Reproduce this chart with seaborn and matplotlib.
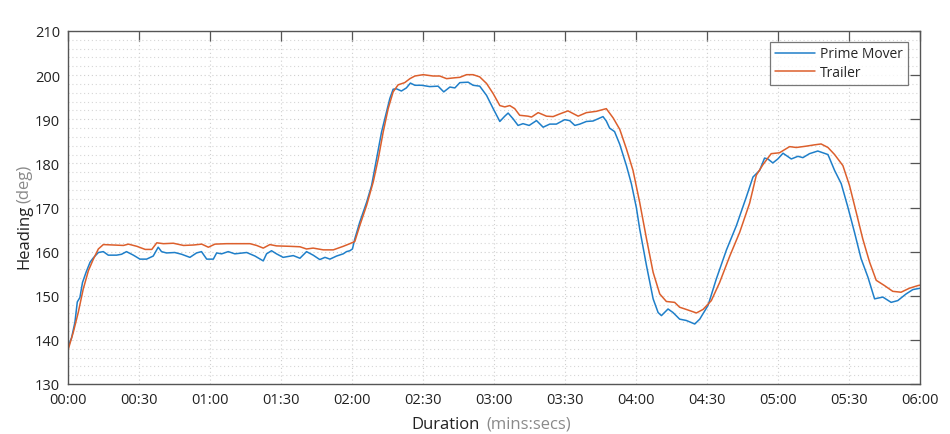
import numpy as np
import pandas as pd
import matplotlib
matplotlib.use("Agg")
import matplotlib.pyplot as plt
import seaborn as sns
from matplotlib.ticker import MultipleLocator, FuncFormatter
from matplotlib.lines import Line2D

# ---- data (seconds, degrees) ----
pm_t = [0, 1.4, 2.8, 3.8, 4.9, 6, 7.5, 9.2, 10.6, 12.7, 14.8, 16.9, 20.4, 22.5, 24.6, 27.5,
        30.3, 33.1, 35.9, 38.0, 39.4, 41.5, 45.0, 47.9, 51.4, 54.2, 56.3, 58.5, 61.3, 62.7,
        64.8, 67.6, 70.4, 75.4, 78.9, 82.4, 83.8, 85.9, 88.0, 90.8, 95.1, 97.9, 100.7, 103.5,
        106.3, 108.5, 110.6, 113.4, 116.2, 117.6, 119.0, 120.1, 121.1, 123.2, 126.1, 128.2,
        130.3, 132.4, 134.5, 135.9, 137.3, 138.7, 140.8, 142.9, 144.6, 146.5, 149.3, 152.8,
        156.3, 158.7, 161.3, 163.4, 165.5, 169.0, 171.1, 173.9, 176.8, 179.6, 182.4, 184.5,
        185.9, 188.0, 190.1, 192.2, 194.8, 197.9, 200.7, 203.5, 206.3, 209.8, 211.9, 214.1,
        216.2, 219.0, 221.8, 223.9, 226.0, 227.4, 228.8, 230.9, 233.1, 235.9, 238.0, 240.1,
        241.5, 244.4, 247.2, 249.3, 250.7, 253.5, 255.6, 258.4, 261.2, 264.8, 266.9, 270.4,
        273.9, 278.2, 282.4, 286.6, 289.4, 292.2, 294.3, 295.7, 297.8, 299.9, 302.1, 305.6,
        308.4, 310.5, 313.3, 316.8, 318.9, 321.1, 323.9, 326.7, 329.5, 332.3, 335.1, 338.0,
        340.8, 344.3, 347.8, 350.6, 354.1, 357.0, 360]
pm_v = [138.6, 140.5, 144.0, 148.6, 149.6, 153.0, 155.3, 157.6, 158.6, 159.8, 160.0, 159.2,
        159.2, 159.4, 160.0, 159.2, 158.3, 158.3, 159.0, 161.0, 160.0, 159.7, 159.8, 159.4,
        158.7, 159.7, 160.0, 158.3, 158.3, 159.7, 159.5, 160.0, 159.5, 159.8, 159.0, 157.9,
        159.5, 160.2, 159.5, 158.7, 159.1, 158.5, 160.0, 159.2, 158.2, 158.7, 158.3, 159.0,
        159.5, 160.0, 160.2, 160.6, 162.9, 166.7, 171.2, 175.0, 181.0, 187.1, 191.6, 194.7,
        196.8, 196.9, 196.4, 197.1, 198.2, 197.7, 197.7, 197.4, 197.5, 196.2, 197.3, 197.1,
        198.3, 198.4, 197.7, 197.5, 195.4, 192.4, 189.5, 190.7, 191.4, 190.1, 188.6, 189.0,
        188.6, 189.7, 188.2, 188.9, 188.9, 189.9, 189.7, 188.6, 188.9, 189.5, 189.6, 190.1,
        190.6, 189.6, 188.0, 187.2, 184.3, 179.5, 175.4, 170.0, 165.2, 156.8, 149.3, 146.2,
        145.5, 147.0, 146.2, 144.7, 144.4, 143.6, 144.7, 147.8, 153.8, 160.4, 165.9, 172.4,
        176.9, 178.4, 181.2, 181.0, 180.1, 181.0, 182.3, 181.0, 181.6, 181.3, 182.2, 182.8,
        182.4, 182.0, 178.4, 175.4, 170.1, 164.4, 158.4, 154.2, 149.3, 149.7, 148.5, 148.9,
        150.4, 151.4, 151.7]

tr_t = [0, 2.1, 4.2, 6.3, 8.5, 10.6, 12.7, 14.8, 19.1, 23.3, 25.4, 29.0, 32.5, 35.3, 37.4,
        40.2, 44.4, 48.7, 52.9, 56.4, 59.2, 62.0, 66.9, 76.8, 79.6, 82.4, 85.2, 88.0, 93.7,
        97.9, 100.7, 103.5, 107.8, 112.0, 116.2, 119.0, 121.1, 123.2, 126.1, 128.9, 131.0,
        133.1, 135.2, 137.3, 139.4, 142.2, 144.4, 146.5, 150.0, 154.2, 157.0, 159.9, 163.4,
        165.5, 168.3, 171.1, 173.9, 176.8, 179.6, 182.4, 184.5, 186.6, 188.7, 190.8, 194.3,
        195.8, 198.6, 202.1, 204.9, 207.7, 211.2, 215.5, 219.0, 223.2, 227.4, 230.3, 233.1,
        235.9, 238.7, 241.5, 244.4, 247.2, 250.0, 252.8, 256.3, 258.4, 261.2, 265.5, 268.3,
        271.8, 275.3, 279.6, 283.8, 288.0, 290.8, 293.6, 297.1, 300.6, 304.9, 307.7, 311.9,
        315.4, 318.2, 321.1, 323.9, 327.4, 330.2, 333.0, 335.8, 338.7, 341.5, 345.0, 348.5,
        352.0, 355.5, 359.1, 360]
tr_v = [137.9, 141.7, 146.2, 151.5, 155.7, 158.3, 160.6, 161.6, 161.5, 161.4, 161.7, 161.2,
        160.5, 160.5, 162.0, 161.8, 161.9, 161.4, 161.5, 161.7, 161.0, 161.7, 161.8, 161.8,
        161.4, 160.8, 161.6, 161.3, 161.2, 161.1, 160.6, 160.8, 160.4, 160.4, 161.2, 161.8,
        162.3, 165.9, 170.5, 175.8, 181.0, 187.1, 192.4, 196.2, 197.8, 198.3, 199.2, 199.8,
        200.1, 199.8, 199.8, 199.2, 199.4, 199.5, 200.1, 200.1, 199.6, 198.1, 195.8, 193.1,
        192.8, 193.1, 192.4, 190.9, 190.7, 190.5, 191.5, 190.7, 190.6, 191.2, 191.9, 190.7,
        191.5, 191.8, 192.4, 190.3, 187.7, 183.3, 178.4, 171.2, 162.9, 155.3, 150.4, 148.7,
        148.5, 147.4, 146.9, 146.1, 146.9, 148.9, 153.0, 159.0, 164.4, 171.0, 177.3, 179.7,
        182.2, 182.4, 183.8, 183.6, 183.9, 184.2, 184.4, 183.6, 182.0, 179.5, 175.0, 169.0,
        162.9, 157.6, 153.5, 152.3, 151.0, 150.8, 151.7, 152.3, 152.4]

series_names = ["Prime Mover", "Trailer"]
colors = ["#1f7fc9", "#dc5f2c"]

df = pd.concat([
    pd.DataFrame({"t": pm_t, "v": pm_v, "Series": series_names[0]}),
    pd.DataFrame({"t": tr_t, "v": tr_v, "Series": series_names[1]}),
], ignore_index=True)

sns.set_theme(style="white")
plt.rcParams["font.family"] = ["Open Sans", "DejaVu Sans"]

fig = plt.figure(figsize=(9.5, 4.35), dpi=100)
ax = fig.add_axes([68.3 / 950, 50 / 435, (920 - 68.3) / 950, 353 / 435])

sns.lineplot(data=df, x="t", y="v", hue="Series", palette=colors, sort=False,
             estimator=None, linewidth=1.1, ax=ax, legend=False)

ax.set_xlim(0, 360)
ax.set_ylim(130, 210)
ax.xaxis.set_major_locator(MultipleLocator(30))
ax.yaxis.set_major_locator(MultipleLocator(10))
ax.yaxis.set_minor_locator(MultipleLocator(2))
ax.xaxis.set_major_formatter(FuncFormatter(lambda s, p: f"{int(s)//60:02d}:{int(s)%60:02d}"))

ax.grid(which="major", axis="both", linestyle=(0, (1, 2.5)), color="#cfcfcf", linewidth=0.8)
ax.grid(which="minor", axis="y", linestyle=(0, (1, 2.5)), color="#d6d6d6", linewidth=0.8)
ax.set_axisbelow(True)

for s in ax.spines.values():
    s.set_color("#555555")
    s.set_linewidth(1.0)
    s.set_visible(True)

ax.tick_params(which="major", direction="in", length=7, width=0.9, color="#555555",
               top=True, right=True, labelsize=10.5, labelcolor="#222222", pad=6)
ax.tick_params(which="minor", length=0)
ax.set_xlabel("")
ax.set_ylabel("")

# legend
handles = [Line2D([0], [0], color=c, lw=1.1) for c in colors]
leg = ax.legend(handles, series_names, loc="upper right", bbox_to_anchor=(0.986, 0.97),
                frameon=True, fancybox=False, edgecolor="#555555", fontsize=10,
                handlelength=2.9, handletextpad=0.4, borderpad=0.35, labelspacing=0.25,
                borderaxespad=0)
leg.get_frame().set_linewidth(0.9)

# axis labels with grey units
fig.text(480 / 950, 1 - 429 / 435, "Duration", ha="right", va="baseline",
         fontsize=12, color="#222222")
fig.text(486 / 950, 1 - 429 / 435, "(mins:secs)", ha="left", va="baseline",
         fontsize=12, color="#8a8a8a")
fig.text(24 / 950, 1 - 205 / 435, "Heading", ha="center", va="top", rotation=90,
         fontsize=12, color="#222222")
fig.text(24 / 950, 1 - 203 / 435, "(deg)", ha="center", va="bottom", rotation=90,
         fontsize=12, color="#8a8a8a")

fig.savefig("out.png", dpi=100)
